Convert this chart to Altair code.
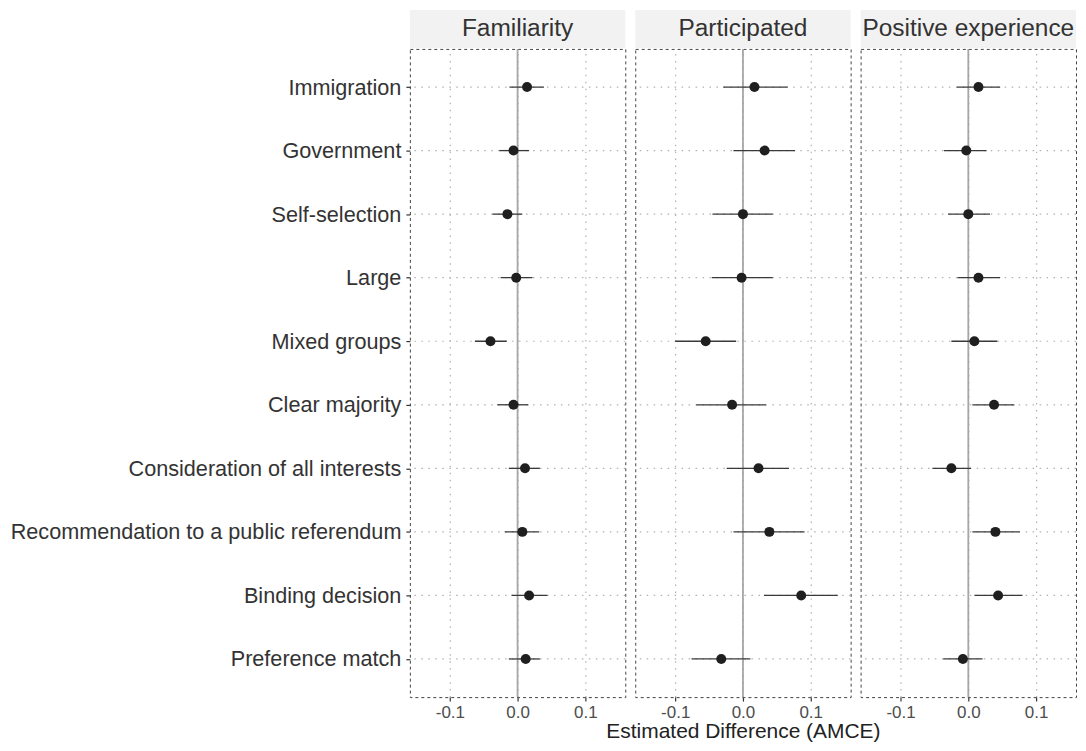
import altair as alt
import pandas as pd

attributes = [
    "Immigration",
    "Government",
    "Self-selection",
    "Large",
    "Mixed groups",
    "Clear majority",
    "Consideration of all interests",
    "Recommendation to a public referendum",
    "Binding decision",
    "Preference match",
]
outcomes = ["Familiarity", "Participated", "Positive experience"]

fam_est = [0.014, -0.006, -0.015, -0.002, -0.040, -0.006, 0.011, 0.007, 0.017, 0.012]
fam_lo = [-0.012, -0.027, -0.037, -0.025, -0.063, -0.030, -0.013, -0.019, -0.009, -0.013]
fam_hi = [0.039, 0.017, 0.007, 0.022, -0.016, 0.016, 0.033, 0.032, 0.044, 0.033]

par_est = [0.017, 0.032, 0.000, -0.002, -0.055, -0.016, 0.023, 0.039, 0.086, -0.032]
par_lo = [-0.029, -0.014, -0.045, -0.046, -0.100, -0.069, -0.024, -0.014, 0.031, -0.076]
par_hi = [0.066, 0.077, 0.044, 0.044, -0.010, 0.034, 0.068, 0.091, 0.140, 0.011]

pos_est = [0.015, -0.003, 0.000, 0.015, 0.009, 0.038, -0.025, 0.040, 0.044, -0.008]
pos_lo = [-0.017, -0.036, -0.030, -0.016, -0.025, 0.006, -0.053, 0.006, 0.009, -0.037]
pos_hi = [0.047, 0.027, 0.032, 0.047, 0.043, 0.068, 0.004, 0.076, 0.080, 0.021]

x_ticks = [-0.1, 0.0, 0.1]
x_domain = [-0.159, 0.159]
zero_ref = [0.0]

W = 216
H = 650
FONT = "Liberation Sans"
GRID_DASH = [1.5, 5.5]
GRID_COLOR = "#b0b0b0"

series = [
    (fam_est, fam_lo, fam_hi),
    (par_est, par_lo, par_hi),
    (pos_est, pos_lo, pos_hi),
]

label_expr = "datum.value < 0 ? '-' + format(abs(datum.value), '.1f') : format(datum.value, '.1f')"


def make_panel(i, name, est, lo, hi):
    df = pd.DataFrame({"attribute": attributes, "est": est, "lo": lo, "hi": hi})
    xscale = alt.Scale(domain=x_domain, nice=False, zero=False)
    yscale = alt.Scale(domain=attributes, type="point", padding=0.6)

    if i == 0:
        yaxis = alt.Axis(
            title=None, labelFontSize=21.7, labelColor="#333333", labelFont=FONT,
            tickColor="#333333", tickSize=4, tickWidth=1.2, labelPadding=5,
            domain=False, grid=False, labelLimit=0, minExtent=0,
        )
    else:
        yaxis = None

    xaxis = alt.Axis(
        values=x_ticks, labelExpr=label_expr, labelFontSize=17,
        labelColor="#4d4d4d", labelFont=FONT, tickSize=4, tickColor="#333333",
        tickWidth=1.2, labelPadding=3, domain=False, grid=True,
        gridDash=GRID_DASH, gridColor=GRID_COLOR, gridWidth=1.2,
        title="Estimated Difference (AMCE)" if i == 1 else None,
        titleFontSize=21, titleFontWeight="normal", titleColor="#222222",
        titleFont=FONT, titlePadding=1, titleLimit=0,
    )

    y_enc = alt.Y("attribute:N", sort=attributes, scale=yscale, axis=yaxis)

    strip_df = pd.DataFrame({"outcome": [name]})
    strip_rect = alt.Chart(strip_df).mark_rect(color="#f2f2f2").encode(
        x=alt.value(0), x2=alt.value(W), y=alt.value(-39), y2=alt.value(-1)
    )
    strip_text = alt.Chart(strip_df).mark_text(
        fontSize=24.5, font=FONT, color="#333333", baseline="middle", align="center"
    ).encode(text="outcome:N", x=alt.value(W / 2), y=alt.value(-20))

    hgrid = alt.Chart(df).mark_rule(
        color=GRID_COLOR, strokeDash=GRID_DASH, strokeWidth=1.2
    ).encode(y=y_enc)

    zero = alt.Chart(pd.DataFrame({"x": zero_ref})).mark_rule(
        color="#a6a6a6", strokeWidth=1.8
    ).encode(x=alt.X("x:Q", scale=xscale, axis=xaxis))

    bars = alt.Chart(df).mark_rule(color="#3a3a3a", strokeWidth=1.3).encode(
        x=alt.X("lo:Q", scale=xscale, axis=xaxis), x2="hi:Q", y=y_enc
    )
    pts = alt.Chart(df).mark_circle(size=100, color="#1f1f1f", opacity=1).encode(
        x=alt.X("est:Q", scale=xscale, axis=xaxis), y=y_enc
    )

    return alt.layer(strip_rect, strip_text, hgrid, zero, bars, pts).properties(width=W, height=H)


panels = [make_panel(i, outcomes[i], *series[i]) for i in range(3)]

chart = (
    alt.hconcat(
        *panels, spacing=10, bounds="flush",
        padding={"left": 1, "top": 0, "right": 0, "bottom": 0},
    )
    .configure(font=FONT)
    .configure_view(stroke="#444444", strokeDash=[3, 3], strokeWidth=1)
    .configure_concat(spacing=10)
)

chart.save("out.html", embed_options={"renderer": "svg", "actions": False})
